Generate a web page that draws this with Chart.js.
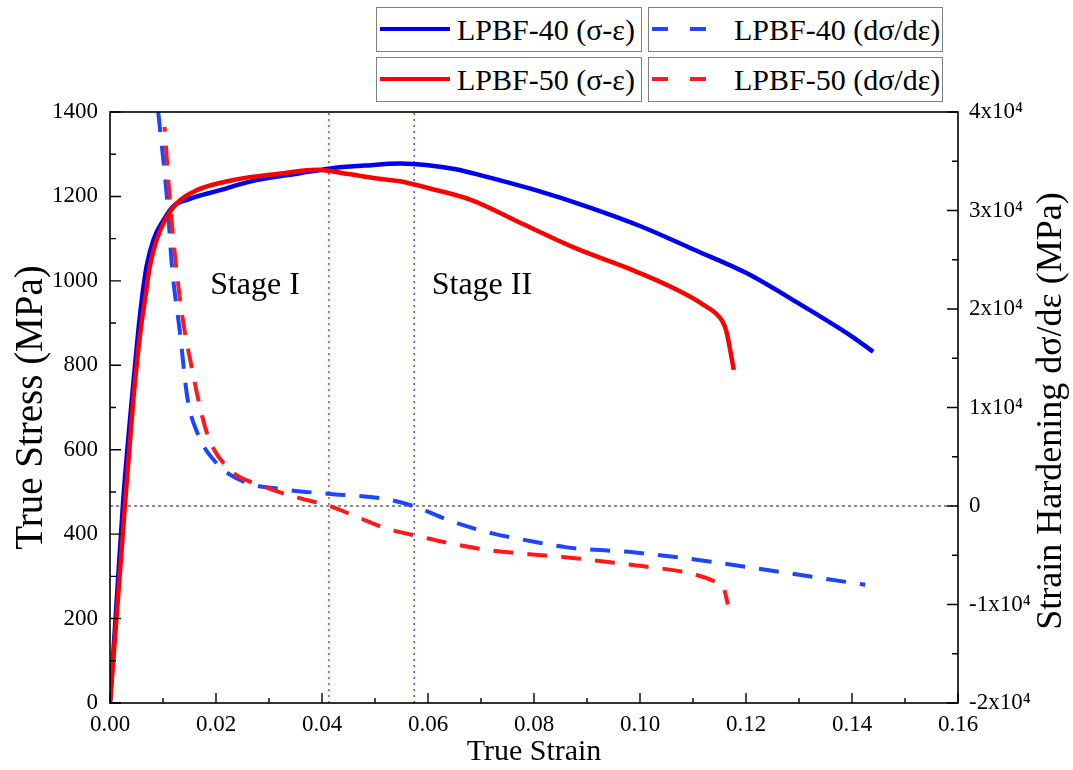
<!DOCTYPE html>
<html>
<head>
<meta charset="utf-8">
<script src="https://cdn.jsdelivr.net/npm/chart.js@4.4.1/dist/chart.umd.min.js"></script>
<style>
  body { margin: 0; background: #fff; }
  #wrap { position: relative; width: 1073px; height: 770px; font-family: 'Liberation Serif', 'Times New Roman', serif; }
  canvas { position: absolute; left: 0; top: 0; }
  .lg { position: absolute; box-sizing: border-box; height: 45px; border: 1.5px solid #808080; background: #fff; }
  .lg svg { position: absolute; left: 0; top: 0; }
  .lg span { position: absolute; top: 4px; font-size: 30px; line-height: 36px; color: #000; white-space: nowrap; }
</style>
</head>
<body>
<div id="wrap">
  <canvas id="chart" width="1073" height="770"></canvas>

  <div class="lg" style="left:376px; top:7px; width:266px;">
    <svg width="80" height="42"><line x1="3" y1="21" x2="73" y2="21" stroke="#0000ee" stroke-width="4"/></svg>
    <span style="left:80px;">LPBF-40 (σ-ε)</span>
  </div>
  <div class="lg" style="left:648px; top:7px; width:295px;">
    <svg width="80" height="42"><line x1="3" y1="21" x2="60" y2="21" stroke="#1d46ff" stroke-width="4" stroke-dasharray="16 22"/></svg>
    <span style="left:85px;">LPBF-40 (dσ/dε)</span>
  </div>
  <div class="lg" style="left:376px; top:57px; width:266px;">
    <svg width="80" height="42"><line x1="3" y1="21" x2="73" y2="21" stroke="#ff0000" stroke-width="4"/></svg>
    <span style="left:80px;">LPBF-50 (σ-ε)</span>
  </div>
  <div class="lg" style="left:648px; top:57px; width:295px;">
    <svg width="80" height="42"><line x1="3" y1="21" x2="60" y2="21" stroke="#ff1a1a" stroke-width="4" stroke-dasharray="16 22"/></svg>
    <span style="left:85px;">LPBF-50 (dσ/dε)</span>
  </div>
</div>

<script>
// --- data ---
const strain40 = [0, 0.001, 0.0025, 0.0044, 0.0053, 0.0060, 0.0069, 0.0082, 0.0101, 0.0119, 0.0145, 0.0208, 0.0264, 0.0358, 0.042, 0.048, 0.0547, 0.060, 0.065, 0.070, 0.080, 0.090, 0.100, 0.110, 0.120, 0.130, 0.140, 0.144];
const stress40 = [0, 190, 481, 757, 876, 955, 1034, 1097, 1144, 1176, 1192, 1215, 1235, 1255, 1267, 1273, 1278, 1274, 1265, 1250, 1216, 1176, 1130, 1075, 1019, 946, 868, 832];

const strain50 = [0, 0.001, 0.002, 0.00283, 0.0044, 0.0057, 0.0066, 0.0075, 0.0088, 0.0104, 0.0126, 0.0164, 0.0233, 0.0327, 0.039, 0.045, 0.050, 0.0547, 0.060, 0.0681, 0.078, 0.0877, 0.0985, 0.106, 0.112, 0.1155, 0.1163, 0.1177];
const stress50 = [0, 165, 330, 470, 718, 876, 955, 1034, 1097, 1144, 1184, 1215, 1239, 1255, 1263, 1253, 1243, 1236, 1220, 1192, 1134, 1078, 1026, 985, 943, 905, 880, 789];

const hStrain40 = [0.0091, 0.0108, 0.0117, 0.0132, 0.0146, 0.0165, 0.0200, 0.0251, 0.0326, 0.0421, 0.051, 0.0572, 0.0647, 0.0723, 0.0798, 0.0862, 0.0987, 0.1113, 0.124, 0.1425];
const hard40    = [40000, 31000, 24300, 17600, 11000, 7400, 4400, 2500, 1700, 1200, 800, 0, -1600, -2800, -3600, -4200, -4700, -5500, -6500, -8000];

const hStrain50 = [0.0103, 0.0113, 0.0132, 0.0154, 0.0183, 0.0220, 0.0295, 0.0358, 0.0415, 0.0466, 0.0522, 0.0585, 0.0642, 0.0717, 0.0792, 0.0843, 0.0911, 0.0987, 0.110, 0.1143, 0.1157, 0.1166];
const hard50    = [38500, 31000, 21000, 14100, 7400, 4000, 1900, 800, 0, -1100, -2300, -3100, -3800, -4500, -4900, -5100, -5500, -6000, -6900, -7700, -8200, -10000];

// stage boundaries (dotted lines)
const stageStrain50 = 0.0413;
const stageStrain40 = 0.0574;

const xTicks = [0, 0.02, 0.04, 0.06, 0.08, 0.10, 0.12, 0.14, 0.16];
const xTickLabels = ['0.00', '0.02', '0.04', '0.06', '0.08', '0.10', '0.12', '0.14', '0.16'];
const yTicks = [0, 200, 400, 600, 800, 1000, 1200, 1400];
const yTickLabels = ['0', '200', '400', '600', '800', '1000', '1200', '1400'];
const y2Ticks = [-20000, -10000, 0, 10000, 20000, 30000, 40000];
const y2TickLabels = ['-2x10⁴', '-1x10⁴', '0', '1x10⁴', '2x10⁴', '3x10⁴', '4x10⁴'];

const FONT = "'Liberation Serif', 'Times New Roman', serif";

function pts(xs, ys) {
    return xs.map((x, i) => ({ x: x, y: ys[i] }));
}

// frame, inward ticks, stage labels and right-hand title
const framePlugin = {
    id: 'frame',
    afterDraw(chart) {
        const { ctx, chartArea: a, scales } = chart;
        ctx.save();
        ctx.strokeStyle = '#000';
        ctx.lineWidth = 1.6;
        ctx.strokeRect(a.left, a.top, a.right - a.left, a.bottom - a.top);

        ctx.lineWidth = 1.4;
        ctx.beginPath();
        // x ticks, major + minor
        xTicks.forEach((v, i) => {
            const px = scales.x.getPixelForValue(v);
            ctx.moveTo(px, a.bottom); ctx.lineTo(px, a.bottom - 10);
            if (i < xTicks.length - 1) {
                const m = scales.x.getPixelForValue((v + xTicks[i + 1]) / 2);
                ctx.moveTo(m, a.bottom); ctx.lineTo(m, a.bottom - 5);
            }
        });
        // left ticks
        yTicks.forEach((v, i) => {
            const py = scales.y.getPixelForValue(v);
            ctx.moveTo(a.left, py); ctx.lineTo(a.left + 11, py);
            if (i < yTicks.length - 1) {
                const m = scales.y.getPixelForValue((v + yTicks[i + 1]) / 2);
                ctx.moveTo(a.left, m); ctx.lineTo(a.left + 6, m);
            }
        });
        // right ticks
        y2Ticks.forEach((v, i) => {
            const py = scales.y2.getPixelForValue(v);
            ctx.moveTo(a.right, py); ctx.lineTo(a.right - 11, py);
            if (i < y2Ticks.length - 1) {
                const m = scales.y2.getPixelForValue((v + y2Ticks[i + 1]) / 2);
                ctx.moveTo(a.right, m); ctx.lineTo(a.right - 6, m);
            }
        });
        ctx.stroke();

        // stage labels
        ctx.fillStyle = '#000';
        ctx.font = '32px ' + FONT;
        ctx.textBaseline = 'alphabetic';
        ctx.textAlign = 'left';
        const yb = scales.y.getPixelForValue(970);
        ctx.fillText('Stage I', scales.x.getPixelForValue(0.0189), yb);
        ctx.fillText('Stage II', scales.x.getPixelForValue(0.0607), yb);

        // right axis title, reads bottom-to-top like the left one
        ctx.translate(1052, 411);
        ctx.rotate(-Math.PI / 2);
        ctx.textAlign = 'center';
        ctx.textBaseline = 'middle';
        ctx.font = '36px ' + FONT;
        ctx.fillText('Strain Hardening dσ/dε (MPa)', 0, 0);
        ctx.restore();
    }
};

function fixTicks(list) {
    return function(scale) {
        scale.ticks = list.map(v => ({ value: v }));
    };
}

const ctx = document.getElementById('chart').getContext('2d');
new Chart(ctx, {
    type: 'scatter',
    data: {
        datasets: [
            {
                label: 'LPBF-50 (σ-ε)',
                data: pts(strain50, stress50),
                yAxisID: 'y',
                showLine: true,
                borderColor: '#ff0000',
                borderWidth: 4.5,
                pointRadius: 0,
                cubicInterpolationMode: 'monotone'
            },
            {
                label: 'LPBF-40 (σ-ε)',
                data: pts(strain40, stress40),
                yAxisID: 'y',
                showLine: true,
                borderColor: '#0000ee',
                borderWidth: 4.5,
                pointRadius: 0,
                cubicInterpolationMode: 'monotone'
            },
            {
                label: 'LPBF-50 (dσ/dε)',
                data: pts(hStrain50, hard50),
                yAxisID: 'y2',
                showLine: true,
                borderColor: '#ff1a1a',
                borderWidth: 4,
                borderDash: [20, 14],
                borderDashOffset: 15,
                pointRadius: 0,
                cubicInterpolationMode: 'monotone'
            },
            {
                label: 'LPBF-40 (dσ/dε)',
                data: pts(hStrain40, hard40),
                yAxisID: 'y2',
                showLine: true,
                borderColor: '#1d46ff',
                borderWidth: 4,
                borderDash: [20, 14],
                pointRadius: 0,
                cubicInterpolationMode: 'monotone'
            },
            {
                label: 'zero',
                data: [{ x: 0, y: 0 }, { x: 0.16, y: 0 }],
                yAxisID: 'y2',
                showLine: true,
                borderColor: '#666',
                borderWidth: 1.5,
                borderDash: [3, 3],
                pointRadius: 0
            },
            {
                label: 'stage 50',
                data: [{ x: stageStrain50, y: 0 }, { x: stageStrain50, y: 1400 }],
                yAxisID: 'y',
                showLine: true,
                borderColor: '#ff3030',
                borderWidth: 1.5,
                borderDash: [2, 4],
                pointRadius: 0
            },
            {
                label: 'stage 40',
                data: [{ x: stageStrain40, y: 0 }, { x: stageStrain40, y: 1400 }],
                yAxisID: 'y',
                showLine: true,
                borderColor: '#4a4aff',
                borderWidth: 1.5,
                borderDash: [2, 4],
                pointRadius: 0
            }
        ]
    },
    options: {
        responsive: false,
        animation: false,
        devicePixelRatio: 1,
        layout: { padding: { top: 112, left: 0, right: 0, bottom: 0 } },
        plugins: {
            legend: { display: false },
            tooltip: { enabled: false }
        },
        scales: {
            x: {
                type: 'linear',
                min: 0,
                max: 0.16,
                afterBuildTicks: fixTicks(xTicks),
                afterFit: s => { s.height = 67; },
                grid: { drawOnChartArea: false, drawTicks: false },
                border: { display: false },
                ticks: {
                    color: '#000',
                    padding: 8,
                    font: { family: FONT, size: 23 },
                    callback: (v, i) => xTickLabels[i]
                },
                title: {
                    display: true,
                    text: 'True Strain',
                    color: '#000',
                    font: { family: FONT, size: 30 },
                    padding: { top: 0, bottom: 0 }
                }
            },
            y: {
                type: 'linear',
                position: 'left',
                min: 0,
                max: 1400,
                afterBuildTicks: fixTicks(yTicks),
                afterFit: s => { s.width = 110; },
                grid: { drawOnChartArea: false, drawTicks: false },
                border: { display: false },
                ticks: {
                    color: '#000',
                    padding: 12,
                    font: { family: FONT, size: 23 },
                    callback: (v, i) => yTickLabels[i]
                },
                title: {
                    display: true,
                    text: 'True Stress (MPa)',
                    color: '#000',
                    font: { family: FONT, size: 39 },
                    padding: { top: 8, bottom: 0 }
                }
            },
            y2: {
                type: 'linear',
                position: 'right',
                min: -20000,
                max: 40000,
                afterBuildTicks: fixTicks(y2Ticks),
                afterFit: s => { s.width = 115; },
                grid: { drawOnChartArea: false, drawTicks: false },
                border: { display: false },
                ticks: {
                    color: '#000',
                    padding: 11,
                    font: { family: FONT, size: 23 },
                    callback: (v, i) => y2TickLabels[i]
                }
            }
        }
    },
    plugins: [framePlugin]
});
</script>
</body>
</html>
